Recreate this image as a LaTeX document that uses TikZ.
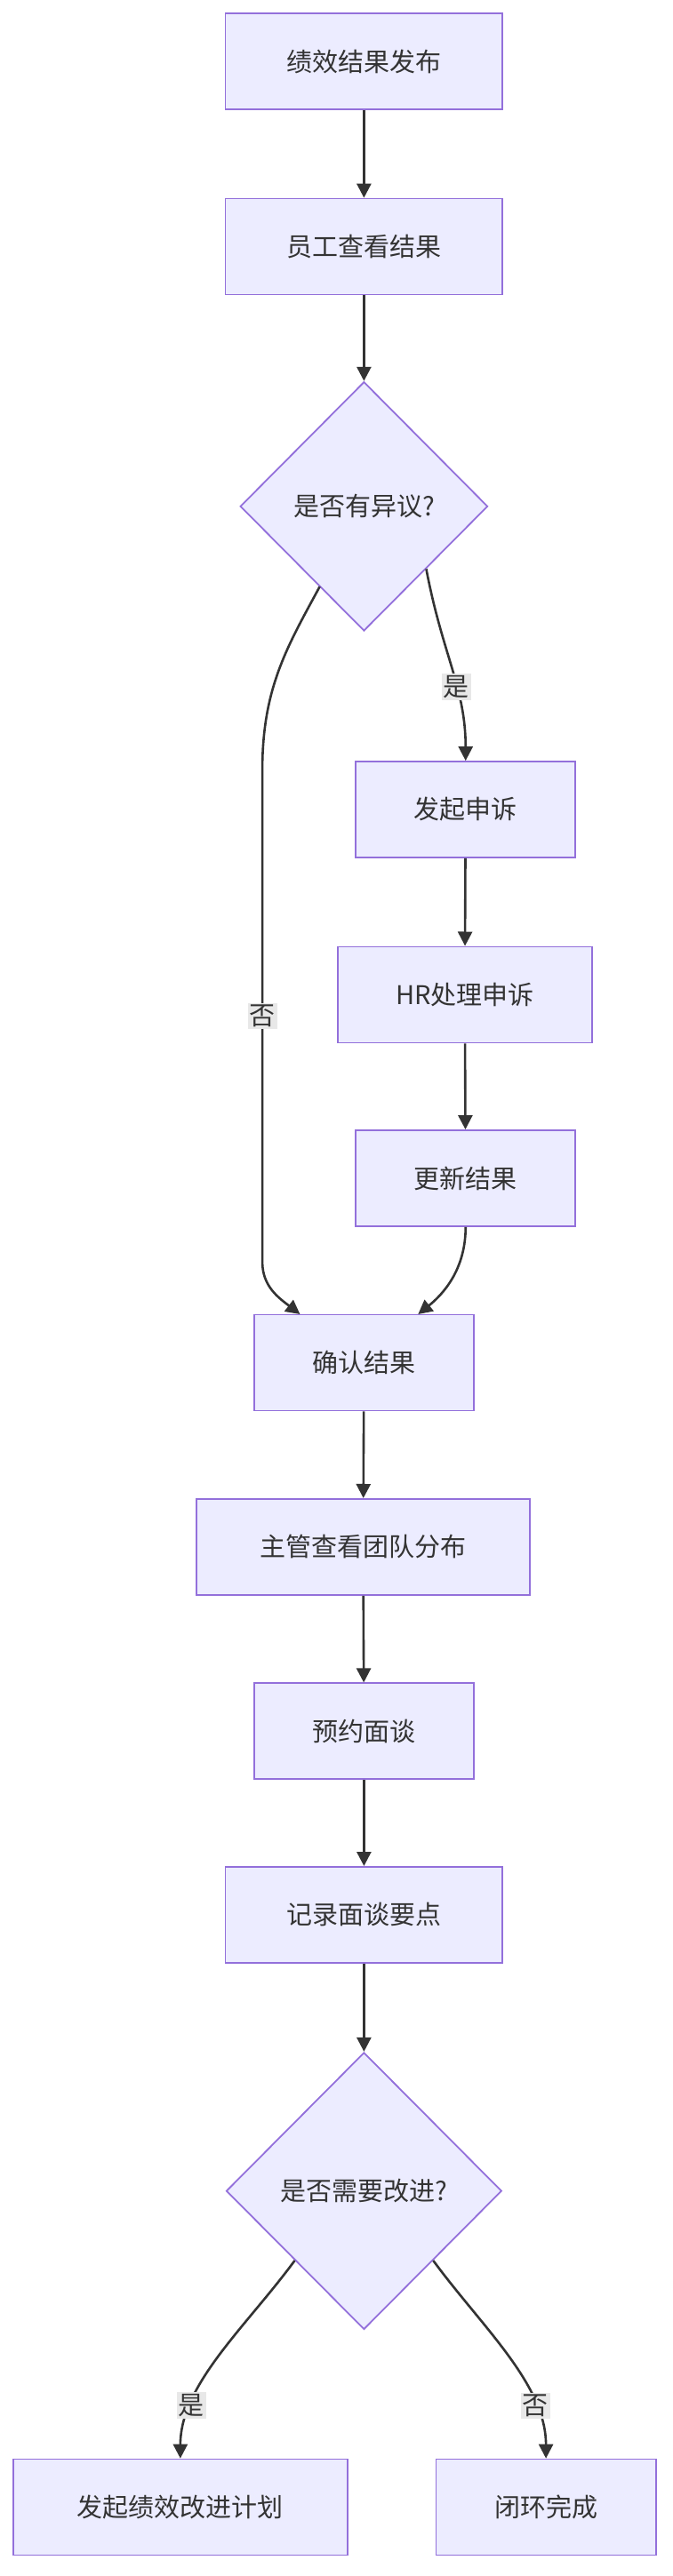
\documentclass[tikz,border=0pt]{standalone}
\usepackage{fontspec}
\setmainfont{Noto Sans CJK SC}
\usepackage{xcolor}
\usetikzlibrary{shapes.geometric, arrows.meta, positioning}
\definecolor{nodefill}{HTML}{ECECFF}
\definecolor{nodedraw}{HTML}{9370DB}
\definecolor{dark}{HTML}{333333}
\definecolor{labelbg}{HTML}{E8E8E8}
\tikzset{
    % Process box
    step/.style={
        rectangle,
        minimum width=#1*1.844pt,
        minimum height=108pt,
        align=center,
        font=\fontsize{29pt}{34pt}\selectfont,
        text=dark,
        draw=nodedraw,
        fill=nodefill,
        line width=1.8pt
    },
    % Decision diamond
    decision/.style={
        diamond,
        inner sep=0pt,
        align=center,
        font=\fontsize{29pt}{34pt}\selectfont,
        text=dark,
        draw=nodedraw,
        fill=nodefill,
        line width=1.8pt
    },
    % Arrow style
    flow/.style={
        -{Triangle[length=16pt, width=16pt]},
        line width=2.6pt,
        color=dark
    },
    % Edge label
    edge label/.style={
        font=\fontsize{29pt}{34pt}\selectfont,
        text=dark,
        fill=labelbg,
        inner sep=2pt
    }
}
\begin{document}
\begin{tikzpicture}[x=1.844pt, y=-1.844pt]
    \useasboundingbox (0,0) rectangle (410,1572);

    % Upper flow
    \node[step=169] (pub) at (222, 37.5) {绩效结果发布};
    \node[step=169] (view) at (222, 150.5) {员工查看结果};
    \node[decision, minimum width=151*1.844pt, minimum height=152*1.844pt] (dis) at (222, 309) {是否有异议?};

    % Appeal branch
    \node[step=134] (appeal) at (284, 494) {发起申诉};
    \node[step=155] (hr) at (283.5, 607) {HR处理申诉};
    \node[step=134] (upd) at (284, 719) {更新结果};

    % Lower flow
    \node[step=134] (conf) at (222, 831.5) {确认结果};
    \node[step=203] (mgr) at (221.5, 944) {主管查看团队分布};
    \node[step=134] (book) at (222, 1056.5) {预约面谈};
    \node[step=169] (rec) at (222, 1168.5) {记录面谈要点};
    \node[decision, minimum width=168*1.844pt, minimum height=169*1.844pt] (imp) at (222, 1337) {是否需要改进?};

    % Outcomes
    \node[step=204] (plan) at (110, 1530) {发起绩效改进计划};
    \node[step=134] (done) at (333, 1530) {闭环完成};

    % Connections
    \draw[flow] (pub) -- (view);
    \draw[flow] (view) -- (dis);
    \draw[flow] (dis.south east) ++(0,0) .. controls (270,400) and (284,420) .. (appeal.north)
        node[edge label, pos=0.6] {是};
    \draw[flow] (appeal) -- (hr);
    \draw[flow] (hr) -- (upd);
    \draw[flow] (upd.south) .. controls (284,775) and (270,790) .. (255,802);
    \draw[flow] (195,358) .. controls (175,395) and (160,420) .. (160,470)
        -- (160,770) node[edge label, midway] {否}
        .. controls (160,785) and (170,792) .. (183,802);
    \draw[flow] (conf) -- (mgr);
    \draw[flow] (mgr) -- (book);
    \draw[flow] (book) -- (rec);
    \draw[flow] (rec) -- (imp);
    \draw[flow] (imp.south west) .. controls (150,1420) and (110,1455) .. (plan.north)
        node[edge label, pos=0.75] {是};
    \draw[flow] (imp.south east) .. controls (294,1420) and (333,1455) .. (done.north)
        node[edge label, pos=0.75] {否};
\end{tikzpicture}
\end{document}
